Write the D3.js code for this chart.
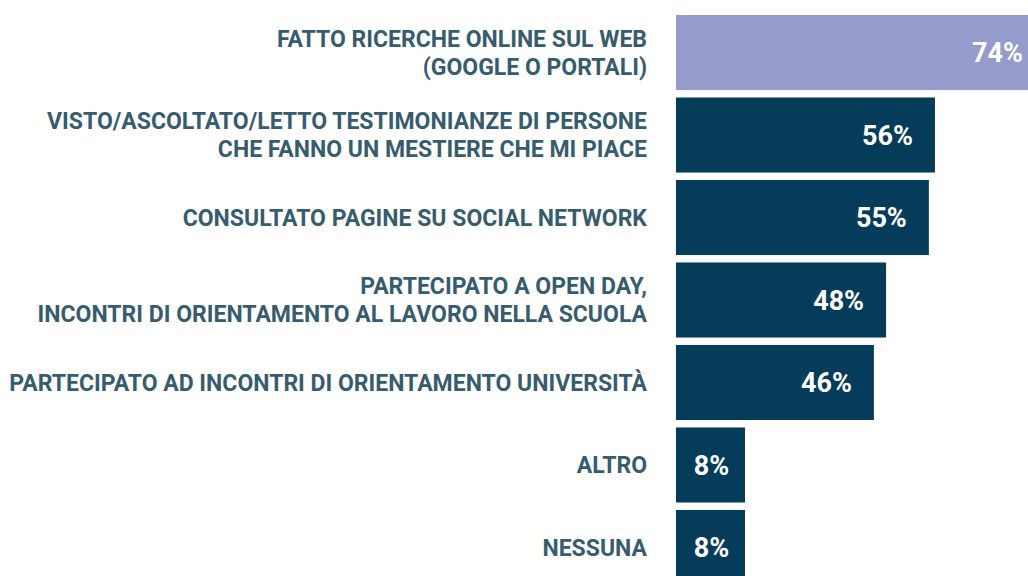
<!DOCTYPE html>
<html lang="it">
<head>
<meta charset="utf-8">
<script src="https://cdn.jsdelivr.net/npm/d3@7"></script>
<style>
  html, body { margin: 0; padding: 0; background: #ffffff; }
  svg { display: block; }
</style>
</head>
<body>
<svg id="chart" width="1028" height="576"></svg>
<script>
// Categories (each entry is one label, split into display lines)
const categories = [
  ["FATTO RICERCHE ONLINE SUL WEB", "(GOOGLE O PORTALI)"],
  ["VISTO/ASCOLTATO/LETTO TESTIMONIANZE DI PERSONE", "CHE FANNO UN MESTIERE CHE MI PIACE"],
  ["CONSULTATO PAGINE SU SOCIAL NETWORK"],
  ["PARTECIPATO A OPEN DAY,", "INCONTRI DI ORIENTAMENTO AL LAVORO NELLA SCUOLA"],
  ["PARTECIPATO AD INCONTRI DI ORIENTAMENTO UNIVERSITÀ"],
  ["ALTRO"],
  ["NESSUNA"]
];
// Share of respondents (%)
const values = [74, 56, 55, 48, 46, 8, 8];
// Index of the highlighted answer
const highlighted = [0];

const svg = d3.select("#chart");
const barX0 = 676;

const y = d3.scaleBand()
  .domain(d3.range(values.length))
  .range([15, 15 + 82.5 * (values.length - 1) + 75])
  .paddingInner(0.09)
  .paddingOuter(0);

const x = d3.scaleLinear().domain([13.6, 75]).range([0, 375]);
const minBar = 69;
const barW = v => Math.max(minBar, x(v));

const rows = svg.append("g")
  .selectAll("g")
  .data(values.map((v, i) => ({ v, i, lines: categories[i] })))
  .join("g")
  .attr("transform", d => `translate(0,${y(d.i)})`);

rows.append("rect")
  .attr("x", barX0)
  .attr("y", 0)
  .attr("width", d => barW(d.v))
  .attr("height", y.bandwidth())
  .attr("fill", d => highlighted.includes(d.i) ? "#959bcb" : "#043c5a");

// Value labels inside the bars
rows.append("text")
  .attr("x", d => barW(d.v) > 120 ? barX0 + barW(d.v) - 22 : barX0 + barW(d.v) / 2 + 1)
  .attr("y", y.bandwidth() / 2)
  .attr("dy", "0.36em")
  .attr("text-anchor", d => barW(d.v) > 120 ? "end" : "middle")
  .attr("fill", "#ffffff")
  .attr("font-family", "Roboto, sans-serif")
  .attr("font-weight", 700)
  .attr("font-size", 27)
  .text(d => d.v + "%");

// Category labels, right-aligned against the bars
const lineH = 28;
rows.append("text")
  .attr("text-anchor", "end")
  .attr("fill", "#375c6d")
  .attr("font-family", "Roboto, sans-serif")
  .attr("font-weight", 700)
  .attr("font-size", 23)
  .selectAll("tspan")
  .data(d => d.lines.map((t, k) => ({ t, k, n: d.lines.length })))
  .join("tspan")
  .attr("x", 647)
  .attr("y", d => y.bandwidth() / 2 + (d.k - (d.n - 1) / 2) * lineH)
  .attr("dy", "0.36em")
  .text(d => d.t);
</script>
</body>
</html>
